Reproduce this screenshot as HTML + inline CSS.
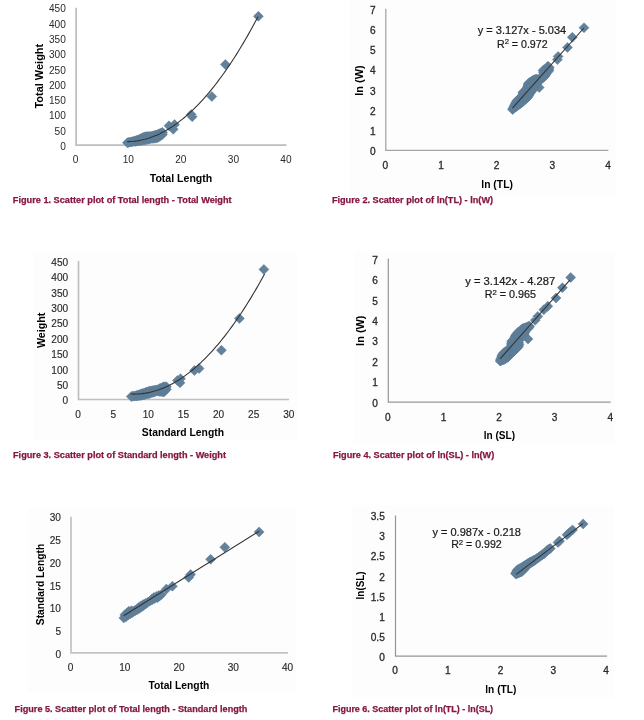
<!DOCTYPE html>
<html><head><meta charset="utf-8"><title>Scatter plots</title>
<style>html,body{margin:0;padding:0;background:#fff;}svg{display:block;filter:blur(0.4px);}text{font-family:"Liberation Sans", Arial, sans-serif;}</style>
</head><body>
<svg width="644" height="720" viewBox="0 0 644 720">
<rect width="644" height="720" fill="#fff"/>
<path d="M76.10 7.70V145.20H286.40" fill="none" stroke="#BDBDBD" stroke-width="1.7"/>
<text x="65.80" y="150.07" font-size="10.0" fill="#2a2a2a" text-anchor="end" textLength="5.62" lengthAdjust="spacingAndGlyphs">0</text>
<text x="65.80" y="134.76" font-size="10.0" fill="#2a2a2a" text-anchor="end" textLength="11.24" lengthAdjust="spacingAndGlyphs">50</text>
<text x="65.80" y="119.46" font-size="10.0" fill="#2a2a2a" text-anchor="end" textLength="16.86" lengthAdjust="spacingAndGlyphs">100</text>
<text x="65.80" y="104.16" font-size="10.0" fill="#2a2a2a" text-anchor="end" textLength="16.86" lengthAdjust="spacingAndGlyphs">150</text>
<text x="65.80" y="88.85" font-size="10.0" fill="#2a2a2a" text-anchor="end" textLength="16.86" lengthAdjust="spacingAndGlyphs">200</text>
<text x="65.80" y="73.55" font-size="10.0" fill="#2a2a2a" text-anchor="end" textLength="16.86" lengthAdjust="spacingAndGlyphs">250</text>
<text x="65.80" y="58.24" font-size="10.0" fill="#2a2a2a" text-anchor="end" textLength="16.86" lengthAdjust="spacingAndGlyphs">300</text>
<text x="65.80" y="42.94" font-size="10.0" fill="#2a2a2a" text-anchor="end" textLength="16.86" lengthAdjust="spacingAndGlyphs">350</text>
<text x="65.80" y="27.63" font-size="10.0" fill="#2a2a2a" text-anchor="end" textLength="16.86" lengthAdjust="spacingAndGlyphs">400</text>
<text x="65.80" y="12.32" font-size="10.0" fill="#2a2a2a" text-anchor="end" textLength="16.86" lengthAdjust="spacingAndGlyphs">450</text>
<text x="75.70" y="163.00" font-size="10.0" fill="#2a2a2a" text-anchor="middle" textLength="5.62" lengthAdjust="spacingAndGlyphs">0</text>
<text x="128.28" y="163.00" font-size="10.0" fill="#2a2a2a" text-anchor="middle" textLength="11.24" lengthAdjust="spacingAndGlyphs">10</text>
<text x="180.85" y="163.00" font-size="10.0" fill="#2a2a2a" text-anchor="middle" textLength="11.24" lengthAdjust="spacingAndGlyphs">20</text>
<text x="233.43" y="163.00" font-size="10.0" fill="#2a2a2a" text-anchor="middle" textLength="11.24" lengthAdjust="spacingAndGlyphs">30</text>
<text x="286.00" y="163.00" font-size="10.0" fill="#2a2a2a" text-anchor="middle" textLength="11.24" lengthAdjust="spacingAndGlyphs">40</text>
<text x="181.00" y="182.30" font-size="10.8" fill="#000000" font-weight="bold" text-anchor="middle" textLength="62.50" lengthAdjust="spacingAndGlyphs">Total Length</text>
<text transform="translate(42.60,76.20) rotate(-90)" x="0" y="0" font-size="10.8" font-weight="bold" fill="#000000" text-anchor="middle" textLength="64.80" lengthAdjust="spacingAndGlyphs">Total Weight</text>
<path d="M127.4 137.7L132.4 142.7L127.4 147.7L122.4 142.7ZM128.7 137.4L133.7 142.4L128.7 147.4L123.7 142.4ZM130.0 137.1L135.0 142.1L130.0 147.1L125.0 142.1ZM131.3 136.9L136.3 141.9L131.3 146.9L126.3 141.9ZM132.6 136.6L137.6 141.6L132.6 146.6L127.6 141.6ZM133.9 136.3L138.9 141.3L133.9 146.3L128.9 141.3ZM135.2 135.8L140.2 140.8L135.2 145.8L130.2 140.8ZM135.2 136.4L140.2 141.4L135.2 146.4L130.2 141.4ZM136.5 135.4L141.5 140.4L136.5 145.4L131.5 140.4ZM136.5 136.2L141.5 141.2L136.5 146.2L131.5 141.2ZM137.8 134.9L142.8 139.9L137.8 144.9L132.8 139.9ZM137.8 136.0L142.8 141.0L137.8 146.0L132.8 141.0ZM139.1 134.5L144.1 139.5L139.1 144.5L134.1 139.5ZM139.1 135.8L144.1 140.8L139.1 145.8L134.1 140.8ZM140.4 133.8L145.4 138.8L140.4 143.8L135.4 138.8ZM140.4 135.6L145.4 140.6L140.4 145.6L135.4 140.6ZM141.7 133.2L146.7 138.2L141.7 143.2L136.7 138.2ZM141.7 135.4L146.7 140.4L141.7 145.4L136.7 140.4ZM143.0 132.6L148.0 137.6L143.0 142.6L138.0 137.6ZM143.0 133.9L148.0 138.9L143.0 143.9L138.0 138.9ZM143.0 135.3L148.0 140.3L143.0 145.3L138.0 140.3ZM144.3 132.0L149.3 137.0L144.3 142.0L139.3 137.0ZM144.3 133.6L149.3 138.6L144.3 143.6L139.3 138.6ZM144.3 135.1L149.3 140.1L144.3 145.1L139.3 140.1ZM145.6 131.7L150.6 136.7L145.6 141.7L140.6 136.7ZM145.6 133.3L150.6 138.3L145.6 143.3L140.6 138.3ZM145.6 134.8L150.6 139.8L145.6 144.8L140.6 139.8ZM146.9 131.6L151.9 136.6L146.9 141.6L141.9 136.6ZM146.9 133.1L151.9 138.1L146.9 143.1L141.9 138.1ZM146.9 134.5L151.9 139.5L146.9 144.5L141.9 139.5ZM148.2 131.5L153.2 136.5L148.2 141.5L143.2 136.5ZM148.2 132.9L153.2 137.9L148.2 142.9L143.2 137.9ZM148.2 134.2L153.2 139.2L148.2 144.2L143.2 139.2ZM149.5 131.5L154.5 136.5L149.5 141.5L144.5 136.5ZM149.5 133.9L154.5 138.9L149.5 143.9L144.5 138.9ZM150.8 131.4L155.8 136.4L150.8 141.4L145.8 136.4ZM150.8 133.5L155.8 138.5L150.8 143.5L145.8 138.5ZM152.1 131.1L157.1 136.1L152.1 141.1L147.1 136.1ZM152.1 133.4L157.1 138.4L152.1 143.4L147.1 138.4ZM153.4 130.8L158.4 135.8L153.4 140.8L148.4 135.8ZM153.4 132.0L158.4 137.0L153.4 142.0L148.4 137.0ZM153.4 133.3L158.4 138.3L153.4 143.3L148.4 138.3ZM154.7 130.4L159.7 135.4L154.7 140.4L149.7 135.4ZM154.7 131.8L159.7 136.8L154.7 141.8L149.7 136.8ZM154.7 133.2L159.7 138.2L154.7 143.2L149.7 138.2ZM156.0 130.1L161.0 135.1L156.0 140.1L151.0 135.1ZM156.0 131.6L161.0 136.6L156.0 141.6L151.0 136.6ZM156.0 133.1L161.0 138.1L156.0 143.1L151.0 138.1ZM157.3 129.7L162.3 134.7L157.3 139.7L152.3 134.7ZM157.3 131.2L162.3 136.2L157.3 141.2L152.3 136.2ZM157.3 132.8L162.3 137.8L157.3 142.8L152.3 137.8ZM158.6 129.1L163.6 134.1L158.6 139.1L153.6 134.1ZM158.6 130.5L163.6 135.5L158.6 140.5L153.6 135.5ZM158.6 132.0L163.6 137.0L158.6 142.0L153.6 137.0ZM159.9 128.5L164.9 133.5L159.9 138.5L154.9 133.5ZM159.9 129.8L164.9 134.8L159.9 139.8L154.9 134.8ZM159.9 131.2L164.9 136.2L159.9 141.2L154.9 136.2ZM161.2 127.9L166.2 132.9L161.2 137.9L156.2 132.9ZM161.2 129.1L166.2 134.1L161.2 139.1L156.2 134.1ZM161.2 130.3L166.2 135.3L161.2 140.3L156.2 135.3ZM162.5 127.3L167.5 132.3L162.5 137.3L157.5 132.3ZM162.5 129.3L167.5 134.3L162.5 139.3L157.5 134.3ZM169.0 120.8L174.0 125.8L169.0 130.8L164.0 125.8ZM174.6 119.6L179.6 124.6L174.6 129.6L169.6 124.6ZM173.2 124.3L178.2 129.3L173.2 134.3L168.2 129.3ZM191.2 109.6L196.2 114.6L191.2 119.6L186.2 114.6ZM192.2 111.7L197.2 116.7L192.2 121.7L187.2 116.7ZM211.8 91.5L216.8 96.5L211.8 101.5L206.8 96.5ZM225.4 59.5L230.4 64.5L225.4 69.5L220.4 64.5ZM258.4 11.3L263.4 16.3L258.4 21.3L253.4 16.3Z" fill="#62819C" stroke="#5D7C97" stroke-width="0.5"/>
<polyline points="127.20,141.64 128.84,141.61 130.47,141.54 132.11,141.43 133.74,141.28 135.38,141.09 137.01,140.87 138.65,140.61 140.28,140.30 141.92,139.96 143.55,139.58 145.19,139.16 146.82,138.70 148.46,138.21 150.09,137.67 151.73,137.10 153.36,136.49 155.00,135.83 156.63,135.14 158.27,134.41 159.90,133.65 161.54,132.84 163.17,131.99 164.81,131.11 166.44,130.19 168.08,129.23 169.72,128.23 171.35,127.19 172.99,126.11 174.62,124.99 176.26,123.84 177.89,122.64 179.53,121.41 181.16,120.14 182.80,118.83 184.43,117.48 186.07,116.09 187.70,114.66 189.34,113.20 190.97,111.69 192.61,110.15 194.24,108.57 195.88,106.95 197.51,105.29 199.15,103.59 200.78,101.85 202.42,100.08 204.05,98.27 205.69,96.41 207.32,94.52 208.96,92.59 210.59,90.62 212.23,88.61 213.86,86.57 215.50,84.48 217.13,82.36 218.77,80.19 220.40,77.99 222.04,75.75 223.67,73.47 225.31,71.15 226.94,68.80 228.58,66.40 230.21,63.97 231.85,61.49 233.48,58.98 235.12,56.43 236.75,53.84 238.39,51.21 240.02,48.55 241.66,45.84 243.29,43.10 244.93,40.31 246.56,37.49 248.20,34.63 249.83,31.73 251.47,28.79 253.10,25.81 254.74,22.80 256.37,19.74 258.01,16.65" fill="none" stroke="#333333" stroke-width="1.1"/>
<text x="12.80" y="203.10" font-size="9.4" fill="#861642" font-weight="bold" textLength="218.80" lengthAdjust="spacingAndGlyphs" stroke="#861642" stroke-width="0.25">Figure 1. Scatter plot of Total length - Total Weight</text>
<rect x="349.5" y="0" width="266.4" height="195" fill="#FDFDFD"/>
<path d="M385.80 8.70V150.30H608.40" fill="none" stroke="#A6A6A6" stroke-width="1.3"/>
<text x="375.60" y="155.22" font-size="10.0" fill="#2a2a2a" text-anchor="end" textLength="5.62" lengthAdjust="spacingAndGlyphs" stroke="#2a2a2a" stroke-width="0.3">0</text>
<text x="375.60" y="135.00" font-size="10.0" fill="#2a2a2a" text-anchor="end" textLength="5.62" lengthAdjust="spacingAndGlyphs" stroke="#2a2a2a" stroke-width="0.3">1</text>
<text x="375.60" y="114.78" font-size="10.0" fill="#2a2a2a" text-anchor="end" textLength="5.62" lengthAdjust="spacingAndGlyphs" stroke="#2a2a2a" stroke-width="0.3">2</text>
<text x="375.60" y="94.56" font-size="10.0" fill="#2a2a2a" text-anchor="end" textLength="5.62" lengthAdjust="spacingAndGlyphs" stroke="#2a2a2a" stroke-width="0.3">3</text>
<text x="375.60" y="74.34" font-size="10.0" fill="#2a2a2a" text-anchor="end" textLength="5.62" lengthAdjust="spacingAndGlyphs" stroke="#2a2a2a" stroke-width="0.3">4</text>
<text x="375.60" y="54.12" font-size="10.0" fill="#2a2a2a" text-anchor="end" textLength="5.62" lengthAdjust="spacingAndGlyphs" stroke="#2a2a2a" stroke-width="0.3">5</text>
<text x="375.60" y="33.90" font-size="10.0" fill="#2a2a2a" text-anchor="end" textLength="5.62" lengthAdjust="spacingAndGlyphs" stroke="#2a2a2a" stroke-width="0.3">6</text>
<text x="375.60" y="13.68" font-size="10.0" fill="#2a2a2a" text-anchor="end" textLength="5.62" lengthAdjust="spacingAndGlyphs" stroke="#2a2a2a" stroke-width="0.3">7</text>
<text x="385.40" y="168.80" font-size="10.0" fill="#2a2a2a" text-anchor="middle" textLength="5.62" lengthAdjust="spacingAndGlyphs" stroke="#2a2a2a" stroke-width="0.3">0</text>
<text x="441.05" y="168.80" font-size="10.0" fill="#2a2a2a" text-anchor="middle" textLength="5.62" lengthAdjust="spacingAndGlyphs" stroke="#2a2a2a" stroke-width="0.3">1</text>
<text x="496.70" y="168.80" font-size="10.0" fill="#2a2a2a" text-anchor="middle" textLength="5.62" lengthAdjust="spacingAndGlyphs" stroke="#2a2a2a" stroke-width="0.3">2</text>
<text x="552.35" y="168.80" font-size="10.0" fill="#2a2a2a" text-anchor="middle" textLength="5.62" lengthAdjust="spacingAndGlyphs" stroke="#2a2a2a" stroke-width="0.3">3</text>
<text x="608.00" y="168.80" font-size="10.0" fill="#2a2a2a" text-anchor="middle" textLength="5.62" lengthAdjust="spacingAndGlyphs" stroke="#2a2a2a" stroke-width="0.3">4</text>
<text x="497.10" y="188.20" font-size="10.8" fill="#000000" font-weight="bold" text-anchor="middle" textLength="31.60" lengthAdjust="spacingAndGlyphs">ln (TL)</text>
<text transform="translate(362.90,80.50) rotate(-90)" x="0" y="0" font-size="11.5" font-weight="bold" fill="#000000" text-anchor="middle" textLength="30.40" lengthAdjust="spacingAndGlyphs">ln (W)</text>
<text x="522.00" y="34.20" font-size="10" fill="#1a1a1a" text-anchor="middle" textLength="88.40" lengthAdjust="spacingAndGlyphs" stroke="#1a1a1a" stroke-width="0.2">y = 3.127x - 5.034</text>
<text x="522.30" y="47.90" font-size="10" fill="#1a1a1a" text-anchor="middle" textLength="50.60" lengthAdjust="spacingAndGlyphs" stroke="#1a1a1a" stroke-width="0.2">R<tspan font-size="7.2" dy="-3.6">2</tspan><tspan dy="3.6"> </tspan>= 0.972</text>
<path d="M512.5 104.5L517.5 109.5L512.5 114.5L507.5 109.5ZM513.5 103.7L518.5 108.7L513.5 113.7L508.5 108.7ZM513.1 103.3L518.1 108.3L513.1 113.3L508.1 108.3ZM514.5 102.8L519.5 107.8L514.5 112.8L509.5 107.8ZM513.7 102.1L518.7 107.1L513.7 112.1L508.7 107.1ZM515.5 102.0L520.5 107.0L515.5 112.0L510.5 107.0ZM514.3 100.9L519.3 105.9L514.3 110.9L509.3 105.9ZM516.6 101.2L521.6 106.2L516.6 111.2L511.6 106.2ZM514.9 99.7L519.9 104.7L514.9 109.7L509.9 104.7ZM517.7 100.5L522.7 105.5L517.7 110.5L512.7 105.5ZM516.6 99.5L521.6 104.5L516.6 109.5L511.6 104.5ZM515.5 98.5L520.5 103.5L515.5 108.5L510.5 103.5ZM518.8 99.7L523.8 104.7L518.8 109.7L513.8 104.7ZM517.5 98.5L522.5 103.5L517.5 108.5L512.5 103.5ZM516.1 97.3L521.1 102.3L516.1 107.3L511.1 102.3ZM519.9 98.9L524.9 103.9L519.9 108.9L514.9 103.9ZM518.3 97.5L523.3 102.5L518.3 107.5L513.3 102.5ZM516.7 96.1L521.7 101.1L516.7 106.1L511.7 101.1ZM521.0 98.1L526.0 103.1L521.0 108.1L516.0 103.1ZM519.3 96.6L524.3 101.6L519.3 106.6L514.3 101.6ZM517.6 95.1L522.6 100.1L517.6 105.1L512.6 100.1ZM521.9 97.3L526.9 102.3L521.9 107.3L516.9 102.3ZM520.3 95.8L525.3 100.8L520.3 105.8L515.3 100.8ZM518.7 94.4L523.7 99.4L518.7 104.4L513.7 99.4ZM522.9 96.4L527.9 101.4L522.9 106.4L517.9 101.4ZM521.4 95.0L526.4 100.0L521.4 105.0L516.4 100.0ZM519.8 93.6L524.8 98.6L519.8 103.6L514.8 98.6ZM523.9 95.5L528.9 100.5L523.9 105.5L518.9 100.5ZM522.4 94.2L527.4 99.2L522.4 104.2L517.4 99.2ZM521.0 92.9L526.0 97.9L521.0 102.9L516.0 97.9ZM524.9 94.7L529.9 99.7L524.9 104.7L519.9 99.7ZM523.5 93.4L528.5 98.4L523.5 103.4L518.5 98.4ZM522.1 92.2L527.1 97.2L522.1 102.2L517.1 97.2ZM525.9 93.8L530.9 98.8L525.9 103.8L520.9 98.8ZM524.3 92.4L529.3 97.4L524.3 102.4L519.3 97.4ZM522.8 91.1L527.8 96.1L522.8 101.1L517.8 96.1ZM526.9 93.0L531.9 98.0L526.9 103.0L521.9 98.0ZM525.5 91.7L530.5 96.7L525.5 101.7L520.5 96.7ZM524.1 90.5L529.1 95.5L524.1 100.5L519.1 95.5ZM522.7 89.3L527.7 94.3L522.7 99.3L517.7 94.3ZM527.8 92.1L532.8 97.1L527.8 102.1L522.8 97.1ZM526.1 90.6L531.1 95.6L526.1 100.6L521.1 95.6ZM524.5 89.1L529.5 94.1L524.5 99.1L519.5 94.1ZM522.8 87.6L527.8 92.6L522.8 97.6L517.8 92.6ZM528.5 90.9L533.5 95.9L528.5 100.9L523.5 95.9ZM526.9 89.5L531.9 94.5L526.9 99.5L521.9 94.5ZM525.4 88.1L530.4 93.1L525.4 98.1L520.4 93.1ZM523.8 86.7L528.8 91.7L523.8 96.7L518.8 91.7ZM529.1 89.8L534.1 94.8L529.1 99.8L524.1 94.8ZM527.7 88.5L532.7 93.5L527.7 98.5L522.7 93.5ZM526.2 87.2L531.2 92.2L526.2 97.2L521.2 92.2ZM524.8 85.9L529.8 90.9L524.8 95.9L519.8 90.9ZM529.8 88.6L534.8 93.6L529.8 98.6L524.8 93.6ZM528.5 87.4L533.5 92.4L528.5 97.4L523.5 92.4ZM527.1 86.2L532.1 91.2L527.1 96.2L522.1 91.2ZM525.8 85.0L530.8 90.0L525.8 95.0L520.8 90.0ZM530.5 87.4L535.5 92.4L530.5 97.4L525.5 92.4ZM529.2 86.4L534.2 91.4L529.2 96.4L524.2 91.4ZM528.0 85.3L533.0 90.3L528.0 95.3L523.0 90.3ZM526.8 84.2L531.8 89.2L526.8 94.2L521.8 89.2ZM531.2 86.4L536.2 91.4L531.2 96.4L526.2 91.4ZM529.9 85.2L534.9 90.2L529.9 95.2L524.9 90.2ZM528.6 84.0L533.6 89.0L528.6 94.0L523.6 89.0ZM527.3 82.9L532.3 87.9L527.3 92.9L522.3 87.9ZM532.1 85.4L537.1 90.4L532.1 95.4L527.1 90.4ZM530.6 84.1L535.6 89.1L530.6 94.1L525.6 89.1ZM529.1 82.8L534.1 87.8L529.1 92.8L524.1 87.8ZM527.6 81.4L532.6 86.4L527.6 91.4L522.6 86.4ZM532.9 84.4L537.9 89.4L532.9 94.4L527.9 89.4ZM531.3 82.9L536.3 87.9L531.3 92.9L526.3 87.9ZM529.6 81.5L534.6 86.5L529.6 91.5L524.6 86.5ZM528.0 80.0L533.0 85.0L528.0 90.0L523.0 85.0ZM533.7 83.4L538.7 88.4L533.7 93.4L528.7 88.4ZM532.4 82.2L537.4 87.2L532.4 92.2L527.4 87.2ZM531.0 81.0L536.0 86.0L531.0 91.0L526.0 86.0ZM529.7 79.8L534.7 84.8L529.7 89.8L524.7 84.8ZM528.3 78.6L533.3 83.6L528.3 88.6L523.3 83.6ZM534.5 82.3L539.5 87.3L534.5 92.3L529.5 87.3ZM532.8 80.8L537.8 85.8L532.8 90.8L527.8 85.8ZM531.1 79.3L536.1 84.3L531.1 89.3L526.1 84.3ZM529.4 77.8L534.4 82.8L529.4 87.8L524.4 82.8ZM535.3 81.3L540.3 86.3L535.3 91.3L530.3 86.3ZM533.7 79.9L538.7 84.9L533.7 89.9L528.7 84.9ZM532.1 78.4L537.1 83.4L532.1 88.4L527.1 83.4ZM530.5 77.0L535.5 82.0L530.5 87.0L525.5 82.0ZM536.0 80.2L541.0 85.2L536.0 90.2L531.0 85.2ZM534.6 78.9L539.6 83.9L534.6 88.9L529.6 83.9ZM533.1 77.6L538.1 82.6L533.1 87.6L528.1 82.6ZM531.6 76.3L536.6 81.3L531.6 86.3L526.6 81.3ZM536.8 79.1L541.8 84.1L536.8 89.1L531.8 84.1ZM535.4 77.9L540.4 82.9L535.4 87.9L530.4 82.9ZM534.1 76.7L539.1 81.7L534.1 86.7L529.1 81.7ZM532.7 75.6L537.7 80.6L532.7 85.6L527.7 80.6ZM537.0 77.6L542.0 82.6L537.0 87.6L532.0 82.6ZM535.5 76.2L540.5 81.2L535.5 86.2L530.5 81.2ZM533.9 74.9L538.9 79.9L533.9 84.9L528.9 79.9ZM537.0 75.9L542.0 80.9L537.0 85.9L532.0 80.9ZM536.1 75.1L541.1 80.1L536.1 85.1L531.1 80.1ZM535.2 74.2L540.2 79.2L535.2 84.2L530.2 79.2ZM537.9 74.9L542.9 79.9L537.9 84.9L532.9 79.9ZM536.9 74.0L541.9 79.0L536.9 84.0L531.9 79.0ZM539.5 74.6L544.5 79.6L539.5 84.6L534.5 79.6ZM539.0 74.2L544.0 79.2L539.0 84.2L534.0 79.2ZM541.0 74.2L546.0 79.2L541.0 84.2L536.0 79.2ZM542.1 73.4L547.1 78.4L542.1 83.4L537.1 78.4ZM543.1 72.6L548.1 77.6L543.1 82.6L538.1 77.6ZM542.7 72.2L547.7 77.2L542.7 82.2L537.7 77.2ZM544.1 71.8L549.1 76.8L544.1 81.8L539.1 76.8ZM543.5 71.2L548.5 76.2L543.5 81.2L538.5 76.2ZM545.0 70.8L550.0 75.8L545.0 80.8L540.0 75.8ZM544.0 69.9L549.0 74.9L544.0 79.9L539.0 74.9ZM545.6 69.6L550.6 74.6L545.6 79.6L540.6 74.6ZM544.5 68.7L549.5 73.7L544.5 78.7L539.5 73.7ZM543.5 67.7L548.5 72.7L543.5 77.7L538.5 72.7ZM546.1 68.3L551.1 73.3L546.1 78.3L541.1 73.3ZM544.5 66.9L549.5 71.9L544.5 76.9L539.5 71.9ZM543.0 65.6L548.0 70.6L543.0 75.6L538.0 70.6ZM547.0 67.3L552.0 72.3L547.0 77.3L542.0 72.3ZM545.5 66.0L550.5 71.0L545.5 76.0L540.5 71.0ZM544.1 64.7L549.1 69.7L544.1 74.7L539.1 69.7ZM548.0 66.5L553.0 71.5L548.0 76.5L543.0 71.5ZM546.8 65.4L551.8 70.4L546.8 75.4L541.8 70.4ZM545.5 64.3L550.5 69.3L545.5 74.3L540.5 69.3ZM548.8 65.5L553.8 70.5L548.8 75.5L543.8 70.5ZM547.8 64.6L552.8 69.6L547.8 74.6L542.8 69.6ZM546.8 63.7L551.8 68.7L546.8 73.7L541.8 68.7ZM549.0 64.0L554.0 69.0L549.0 74.0L544.0 69.0ZM547.4 62.5L552.4 67.5L547.4 72.5L542.4 67.5ZM549.2 62.4L554.2 67.4L549.2 72.4L544.2 67.4ZM547.9 61.2L552.9 66.2L547.9 71.2L542.9 66.2ZM539.2 82.6L544.2 87.6L539.2 92.6L534.2 87.6ZM558.1 51.4L563.1 56.4L558.1 61.4L553.1 56.4ZM557.4 54.6L562.4 59.6L557.4 64.6L552.4 59.6ZM567.5 42.4L572.5 47.4L567.5 52.4L562.5 47.4ZM572.3 32.3L577.3 37.3L572.3 42.3L567.3 37.3ZM584.0 22.7L589.0 27.7L584.0 32.7L579.0 27.7Z" fill="#62819C" stroke="#5D7C97" stroke-width="0.5"/>
<polyline points="512.40,108.10 583.90,28.00" fill="none" stroke="#333333" stroke-width="1.1"/>
<text x="331.90" y="202.80" font-size="9.4" fill="#861642" font-weight="bold" textLength="161.20" lengthAdjust="spacingAndGlyphs" stroke="#861642" stroke-width="0.25">Figure 2. Scatter plot of ln(TL) - ln(W)</text>
<rect x="33" y="252.1" width="263.8" height="188.50000000000003" fill="#FDFDFD"/>
<path d="M78.50 260.90V399.50H289.00" fill="none" stroke="#BFBFBF" stroke-width="1.7"/>
<text x="68.20" y="404.45" font-size="10.5" fill="#2a2a2a" text-anchor="end" textLength="5.62" lengthAdjust="spacingAndGlyphs" stroke="#2a2a2a" stroke-width="0.15">0</text>
<text x="68.20" y="389.05" font-size="10.5" fill="#2a2a2a" text-anchor="end" textLength="11.24" lengthAdjust="spacingAndGlyphs" stroke="#2a2a2a" stroke-width="0.15">50</text>
<text x="68.20" y="373.64" font-size="10.5" fill="#2a2a2a" text-anchor="end" textLength="16.86" lengthAdjust="spacingAndGlyphs" stroke="#2a2a2a" stroke-width="0.15">100</text>
<text x="68.20" y="358.24" font-size="10.5" fill="#2a2a2a" text-anchor="end" textLength="16.86" lengthAdjust="spacingAndGlyphs" stroke="#2a2a2a" stroke-width="0.15">150</text>
<text x="68.20" y="342.83" font-size="10.5" fill="#2a2a2a" text-anchor="end" textLength="16.86" lengthAdjust="spacingAndGlyphs" stroke="#2a2a2a" stroke-width="0.15">200</text>
<text x="68.20" y="327.43" font-size="10.5" fill="#2a2a2a" text-anchor="end" textLength="16.86" lengthAdjust="spacingAndGlyphs" stroke="#2a2a2a" stroke-width="0.15">250</text>
<text x="68.20" y="312.02" font-size="10.5" fill="#2a2a2a" text-anchor="end" textLength="16.86" lengthAdjust="spacingAndGlyphs" stroke="#2a2a2a" stroke-width="0.15">300</text>
<text x="68.20" y="296.62" font-size="10.5" fill="#2a2a2a" text-anchor="end" textLength="16.86" lengthAdjust="spacingAndGlyphs" stroke="#2a2a2a" stroke-width="0.15">350</text>
<text x="68.20" y="281.21" font-size="10.5" fill="#2a2a2a" text-anchor="end" textLength="16.86" lengthAdjust="spacingAndGlyphs" stroke="#2a2a2a" stroke-width="0.15">400</text>
<text x="68.20" y="265.81" font-size="10.5" fill="#2a2a2a" text-anchor="end" textLength="16.86" lengthAdjust="spacingAndGlyphs" stroke="#2a2a2a" stroke-width="0.15">450</text>
<text x="78.10" y="418.00" font-size="10.5" fill="#2a2a2a" text-anchor="middle" textLength="5.62" lengthAdjust="spacingAndGlyphs" stroke="#2a2a2a" stroke-width="0.15">0</text>
<text x="113.21" y="418.00" font-size="10.5" fill="#2a2a2a" text-anchor="middle" textLength="5.62" lengthAdjust="spacingAndGlyphs" stroke="#2a2a2a" stroke-width="0.15">5</text>
<text x="148.32" y="418.00" font-size="10.5" fill="#2a2a2a" text-anchor="middle" textLength="11.24" lengthAdjust="spacingAndGlyphs" stroke="#2a2a2a" stroke-width="0.15">10</text>
<text x="183.43" y="418.00" font-size="10.5" fill="#2a2a2a" text-anchor="middle" textLength="11.24" lengthAdjust="spacingAndGlyphs" stroke="#2a2a2a" stroke-width="0.15">15</text>
<text x="218.54" y="418.00" font-size="10.5" fill="#2a2a2a" text-anchor="middle" textLength="11.24" lengthAdjust="spacingAndGlyphs" stroke="#2a2a2a" stroke-width="0.15">20</text>
<text x="253.65" y="418.00" font-size="10.5" fill="#2a2a2a" text-anchor="middle" textLength="11.24" lengthAdjust="spacingAndGlyphs" stroke="#2a2a2a" stroke-width="0.15">25</text>
<text x="288.76" y="418.00" font-size="10.5" fill="#2a2a2a" text-anchor="middle" textLength="11.24" lengthAdjust="spacingAndGlyphs" stroke="#2a2a2a" stroke-width="0.15">30</text>
<text x="182.90" y="435.50" font-size="10.8" fill="#000000" font-weight="bold" text-anchor="middle" textLength="82.20" lengthAdjust="spacingAndGlyphs">Standard Length</text>
<text transform="translate(45.40,330.30) rotate(-90)" x="0" y="0" font-size="10.8" font-weight="bold" fill="#000000" text-anchor="middle" textLength="35.50" lengthAdjust="spacingAndGlyphs">Weight</text>
<path d="M131.3 391.5L136.3 396.5L131.3 401.5L126.3 396.5ZM132.6 391.3L137.6 396.3L132.6 401.3L127.6 396.3ZM133.9 391.1L138.9 396.1L133.9 401.1L128.9 396.1ZM135.2 390.9L140.2 395.9L135.2 400.9L130.2 395.9ZM136.5 390.6L141.5 395.6L136.5 400.6L131.5 395.6ZM136.5 390.9L141.5 395.9L136.5 400.9L131.5 395.9ZM137.8 390.2L142.8 395.2L137.8 400.2L132.8 395.2ZM137.8 390.8L142.8 395.8L137.8 400.8L132.8 395.8ZM139.1 389.7L144.1 394.7L139.1 399.7L134.1 394.7ZM139.1 390.6L144.1 395.6L139.1 400.6L134.1 395.6ZM140.4 389.3L145.4 394.3L140.4 399.3L135.4 394.3ZM140.4 390.4L145.4 395.4L140.4 400.4L135.4 395.4ZM141.7 388.8L146.7 393.8L141.7 398.8L136.7 393.8ZM141.7 390.2L146.7 395.2L141.7 400.2L136.7 395.2ZM143.0 388.4L148.0 393.4L143.0 398.4L138.0 393.4ZM143.0 390.0L148.0 395.0L143.0 400.0L138.0 395.0ZM144.3 387.9L149.3 392.9L144.3 397.9L139.3 392.9ZM144.3 389.7L149.3 394.7L144.3 399.7L139.3 394.7ZM145.6 387.5L150.6 392.5L145.6 397.5L140.6 392.5ZM145.6 389.3L150.6 394.3L145.6 399.3L140.6 394.3ZM146.9 387.0L151.9 392.0L146.9 397.0L141.9 392.0ZM146.9 389.0L151.9 394.0L146.9 399.0L141.9 394.0ZM148.2 386.6L153.2 391.6L148.2 396.6L143.2 391.6ZM148.2 388.7L153.2 393.7L148.2 398.7L143.2 393.7ZM149.5 386.2L154.5 391.2L149.5 396.2L144.5 391.2ZM149.5 388.4L154.5 393.4L149.5 398.4L144.5 393.4ZM150.8 385.9L155.8 390.9L150.8 395.9L145.8 390.9ZM150.8 388.0L155.8 393.0L150.8 398.0L145.8 393.0ZM152.1 385.7L157.1 390.7L152.1 395.7L147.1 390.7ZM152.1 387.6L157.1 392.6L152.1 397.6L147.1 392.6ZM153.4 385.5L158.4 390.5L153.4 395.5L148.4 390.5ZM153.4 387.2L158.4 392.2L153.4 397.2L148.4 392.2ZM154.7 385.3L159.7 390.3L154.7 395.3L149.7 390.3ZM154.7 386.8L159.7 391.8L154.7 396.8L149.7 391.8ZM156.0 385.1L161.0 390.1L156.0 395.1L151.0 390.1ZM156.0 386.3L161.0 391.3L156.0 396.3L151.0 391.3ZM157.3 384.9L162.3 389.9L157.3 394.9L152.3 389.9ZM157.3 386.0L162.3 391.0L157.3 396.0L152.3 391.0ZM158.6 384.2L163.6 389.2L158.6 394.2L153.6 389.2ZM158.6 386.2L163.6 391.2L158.6 396.2L153.6 391.2ZM159.9 383.6L164.9 388.6L159.9 393.6L154.9 388.6ZM159.9 385.0L164.9 390.0L159.9 395.0L154.9 390.0ZM159.9 386.4L164.9 391.4L159.9 396.4L154.9 391.4ZM161.2 383.0L166.2 388.0L161.2 393.0L156.2 388.0ZM161.2 384.8L166.2 389.8L161.2 394.8L156.2 389.8ZM161.2 386.5L166.2 391.5L161.2 396.5L156.2 391.5ZM162.5 382.4L167.5 387.4L162.5 392.4L157.5 387.4ZM162.5 384.6L167.5 389.6L162.5 394.6L157.5 389.6ZM162.5 386.7L167.5 391.7L162.5 396.7L157.5 391.7ZM163.8 381.8L168.8 386.8L163.8 391.8L158.8 386.8ZM163.8 383.5L168.8 388.5L163.8 393.5L158.8 388.5ZM163.8 385.2L168.8 390.2L163.8 395.2L158.8 390.2ZM163.8 386.9L168.8 391.9L163.8 396.9L158.8 391.9ZM165.1 381.8L170.1 386.8L165.1 391.8L160.1 386.8ZM165.1 383.7L170.1 388.7L165.1 393.7L160.1 388.7ZM165.1 385.7L170.1 390.7L165.1 395.7L160.1 390.7ZM166.4 381.8L171.4 386.8L166.4 391.8L161.4 386.8ZM166.4 384.2L171.4 389.2L166.4 394.2L161.4 389.2ZM177.4 375.5L182.4 380.5L177.4 385.5L172.4 380.5ZM180.5 373.7L185.5 378.7L180.5 383.7L175.5 378.7ZM180.0 377.8L185.0 382.8L180.0 387.8L175.0 382.8ZM194.4 365.6L199.4 370.6L194.4 375.6L189.4 370.6ZM199.1 363.5L204.1 368.5L199.1 373.5L194.1 368.5ZM221.4 345.2L226.4 350.2L221.4 355.2L216.4 350.2ZM239.4 313.4L244.4 318.4L239.4 323.4L234.4 318.4ZM263.9 264.4L268.9 269.4L263.9 274.4L258.9 269.4Z" fill="#62819C" stroke="#5D7C97" stroke-width="0.5"/>
<polyline points="130.53,394.00 132.21,394.06 133.88,394.09 135.56,394.07 137.24,394.01 138.91,393.92 140.59,393.78 142.26,393.61 143.94,393.39 145.61,393.14 147.29,392.84 148.96,392.51 150.64,392.14 152.32,391.72 153.99,391.27 155.67,390.78 157.34,390.25 159.02,389.68 160.69,389.07 162.37,388.42 164.05,387.73 165.72,387.00 167.40,386.23 169.07,385.42 170.75,384.57 172.42,383.69 174.10,382.76 175.77,381.79 177.45,380.79 179.13,379.74 180.80,378.66 182.48,377.53 184.15,376.37 185.83,375.16 187.50,373.92 189.18,372.64 190.86,371.31 192.53,369.95 194.21,368.55 195.88,367.11 197.56,365.63 199.23,364.11 200.91,362.55 202.58,360.95 204.26,359.31 205.94,357.63 207.61,355.91 209.29,354.15 210.96,352.36 212.64,350.52 214.31,348.64 215.99,346.73 217.67,344.77 219.34,342.78 221.02,340.74 222.69,338.67 224.37,336.55 226.04,334.40 227.72,332.21 229.39,329.97 231.07,327.70 232.75,325.39 234.42,323.04 236.10,320.65 237.77,318.22 239.45,315.75 241.12,313.24 242.80,310.69 244.48,308.10 246.15,305.47 247.83,302.81 249.50,300.10 251.18,297.35 252.85,294.56 254.53,291.74 256.20,288.87 257.88,285.97 259.56,283.02 261.23,280.04 262.91,277.02 264.58,273.95" fill="none" stroke="#333333" stroke-width="1.1"/>
<text x="13.00" y="457.70" font-size="9.4" fill="#861642" font-weight="bold" textLength="213.00" lengthAdjust="spacingAndGlyphs" stroke="#861642" stroke-width="0.25">Figure 3. Scatter plot of Standard length - Weight</text>
<rect x="354.0" y="252.0" width="260.9" height="190.89999999999998" fill="#FDFDFD"/>
<path d="M388.30 258.40V402.20H610.60" fill="none" stroke="#969696" stroke-width="1.2"/>
<text x="377.80" y="406.57" font-size="10.0" fill="#2a2a2a" text-anchor="end" textLength="5.62" lengthAdjust="spacingAndGlyphs" stroke="#2a2a2a" stroke-width="0.3">0</text>
<text x="377.80" y="386.16" font-size="10.0" fill="#2a2a2a" text-anchor="end" textLength="5.62" lengthAdjust="spacingAndGlyphs" stroke="#2a2a2a" stroke-width="0.3">1</text>
<text x="377.80" y="365.75" font-size="10.0" fill="#2a2a2a" text-anchor="end" textLength="5.62" lengthAdjust="spacingAndGlyphs" stroke="#2a2a2a" stroke-width="0.3">2</text>
<text x="377.80" y="345.34" font-size="10.0" fill="#2a2a2a" text-anchor="end" textLength="5.62" lengthAdjust="spacingAndGlyphs" stroke="#2a2a2a" stroke-width="0.3">3</text>
<text x="377.80" y="324.93" font-size="10.0" fill="#2a2a2a" text-anchor="end" textLength="5.62" lengthAdjust="spacingAndGlyphs" stroke="#2a2a2a" stroke-width="0.3">4</text>
<text x="377.80" y="304.52" font-size="10.0" fill="#2a2a2a" text-anchor="end" textLength="5.62" lengthAdjust="spacingAndGlyphs" stroke="#2a2a2a" stroke-width="0.3">5</text>
<text x="377.80" y="284.11" font-size="10.0" fill="#2a2a2a" text-anchor="end" textLength="5.62" lengthAdjust="spacingAndGlyphs" stroke="#2a2a2a" stroke-width="0.3">6</text>
<text x="377.80" y="263.70" font-size="10.0" fill="#2a2a2a" text-anchor="end" textLength="5.62" lengthAdjust="spacingAndGlyphs" stroke="#2a2a2a" stroke-width="0.3">7</text>
<text x="387.90" y="420.60" font-size="10.0" fill="#2a2a2a" text-anchor="middle" textLength="5.62" lengthAdjust="spacingAndGlyphs" stroke="#2a2a2a" stroke-width="0.3">0</text>
<text x="443.50" y="420.60" font-size="10.0" fill="#2a2a2a" text-anchor="middle" textLength="5.62" lengthAdjust="spacingAndGlyphs" stroke="#2a2a2a" stroke-width="0.3">1</text>
<text x="499.10" y="420.60" font-size="10.0" fill="#2a2a2a" text-anchor="middle" textLength="5.62" lengthAdjust="spacingAndGlyphs" stroke="#2a2a2a" stroke-width="0.3">2</text>
<text x="554.70" y="420.60" font-size="10.0" fill="#2a2a2a" text-anchor="middle" textLength="5.62" lengthAdjust="spacingAndGlyphs" stroke="#2a2a2a" stroke-width="0.3">3</text>
<text x="610.30" y="420.60" font-size="10.0" fill="#2a2a2a" text-anchor="middle" textLength="5.62" lengthAdjust="spacingAndGlyphs" stroke="#2a2a2a" stroke-width="0.3">4</text>
<text x="499.40" y="439.30" font-size="10.8" fill="#000000" font-weight="bold" text-anchor="middle" textLength="31.40" lengthAdjust="spacingAndGlyphs">ln (SL)</text>
<text transform="translate(364.10,330.70) rotate(-90)" x="0" y="0" font-size="11.5" font-weight="bold" fill="#000000" text-anchor="middle" textLength="30.40" lengthAdjust="spacingAndGlyphs">ln (W)</text>
<text x="510.20" y="285.00" font-size="10" fill="#1a1a1a" text-anchor="middle" textLength="90.00" lengthAdjust="spacingAndGlyphs" stroke="#1a1a1a" stroke-width="0.2">y = 3.142x - 4.287</text>
<text x="510.40" y="298.30" font-size="10" fill="#1a1a1a" text-anchor="middle" textLength="51.20" lengthAdjust="spacingAndGlyphs" stroke="#1a1a1a" stroke-width="0.2">R<tspan font-size="7.2" dy="-3.6">2</tspan><tspan dy="3.6"> </tspan>= 0.965</text>
<path d="M500.1 356.0L505.1 361.0L500.1 366.0L495.1 361.0ZM501.4 355.5L506.4 360.5L501.4 365.5L496.4 360.5ZM500.6 354.7L505.6 359.7L500.6 364.7L495.6 359.7ZM502.8 354.9L507.8 359.9L502.8 364.9L497.8 359.9ZM501.1 353.4L506.1 358.4L501.1 363.4L496.1 358.4ZM504.1 354.4L509.1 359.4L504.1 364.4L499.1 359.4ZM502.8 353.2L507.8 358.2L502.8 363.2L497.8 358.2ZM501.5 352.1L506.5 357.1L501.5 362.1L496.5 357.1ZM505.4 353.8L510.4 358.8L505.4 363.8L500.4 358.8ZM503.7 352.3L508.7 357.3L503.7 362.3L498.7 357.3ZM502.0 350.8L507.0 355.8L502.0 360.8L497.0 355.8ZM506.5 353.0L511.5 358.0L506.5 363.0L501.5 358.0ZM505.2 351.9L510.2 356.9L505.2 361.9L500.2 356.9ZM503.9 350.7L508.9 355.7L503.9 360.7L498.9 355.7ZM502.6 349.6L507.6 354.6L502.6 359.6L497.6 354.6ZM507.6 352.2L512.6 357.2L507.6 362.2L502.6 357.2ZM506.1 350.9L511.1 355.9L506.1 360.9L501.1 355.9ZM504.7 349.6L509.7 354.6L504.7 359.6L499.7 354.6ZM503.2 348.4L508.2 353.4L503.2 358.4L498.2 353.4ZM508.6 351.4L513.6 356.4L508.6 361.4L503.6 356.4ZM507.1 350.1L512.1 355.1L507.1 360.1L502.1 355.1ZM505.6 348.8L510.6 353.8L505.6 358.8L500.6 353.8ZM504.2 347.5L509.2 352.5L504.2 357.5L499.2 352.5ZM509.5 350.5L514.5 355.5L509.5 360.5L504.5 355.5ZM508.1 349.2L513.1 354.2L508.1 359.2L503.1 354.2ZM506.7 348.0L511.7 353.0L506.7 358.0L501.7 353.0ZM505.4 346.8L510.4 351.8L505.4 356.8L500.4 351.8ZM510.4 349.5L515.4 354.5L510.4 359.5L505.4 354.5ZM509.1 348.4L514.1 353.4L509.1 358.4L504.1 353.4ZM507.9 347.3L512.9 352.3L507.9 357.3L502.9 352.3ZM506.6 346.1L511.6 351.1L506.6 356.1L501.6 351.1ZM511.4 348.6L516.4 353.6L511.4 358.6L506.4 353.6ZM509.6 347.1L514.6 352.1L509.6 357.1L504.6 352.1ZM507.8 345.5L512.8 350.5L507.8 355.5L502.8 350.5ZM512.3 347.7L517.3 352.7L512.3 357.7L507.3 352.7ZM510.6 346.3L515.6 351.3L510.6 356.3L505.6 351.3ZM509.0 344.8L514.0 349.8L509.0 354.8L504.0 349.8ZM513.2 346.8L518.2 351.8L513.2 356.8L508.2 351.8ZM511.7 345.5L516.7 350.5L511.7 355.5L506.7 350.5ZM510.2 344.1L515.2 349.1L510.2 354.1L505.2 349.1ZM514.1 345.9L519.1 350.9L514.1 355.9L509.1 350.9ZM512.6 344.5L517.6 349.5L512.6 354.5L507.6 349.5ZM511.1 343.2L516.1 348.2L511.1 353.2L506.1 348.2ZM515.1 345.0L520.1 350.0L515.1 355.0L510.1 350.0ZM513.8 343.8L518.8 348.8L513.8 353.8L508.8 348.8ZM512.5 342.7L517.5 347.7L512.5 352.7L507.5 347.7ZM511.2 341.6L516.2 346.6L511.2 351.6L506.2 346.6ZM516.0 344.1L521.0 349.1L516.0 354.1L511.0 349.1ZM514.4 342.7L519.4 347.7L514.4 352.7L509.4 347.7ZM512.9 341.3L517.9 346.3L512.9 351.3L507.9 346.3ZM511.3 340.0L516.3 345.0L511.3 350.0L506.3 345.0ZM516.9 343.1L521.9 348.1L516.9 353.1L511.9 348.1ZM515.6 341.9L520.6 346.9L515.6 351.9L510.6 346.9ZM514.2 340.7L519.2 345.7L514.2 350.7L509.2 345.7ZM512.8 339.5L517.8 344.5L512.8 349.5L507.8 344.5ZM511.5 338.3L516.5 343.3L511.5 348.3L506.5 343.3ZM517.9 342.2L522.9 347.2L517.9 352.2L512.9 347.2ZM516.3 340.9L521.3 345.9L516.3 350.9L511.3 345.9ZM514.7 339.5L519.7 344.5L514.7 349.5L509.7 344.5ZM513.2 338.1L518.2 343.1L513.2 348.1L508.2 343.1ZM511.6 336.7L516.6 341.7L511.6 346.7L506.6 341.7ZM518.5 341.1L523.5 346.1L518.5 351.1L513.5 346.1ZM517.0 339.7L522.0 344.7L517.0 349.7L512.0 344.7ZM515.4 338.4L520.4 343.4L515.4 348.4L510.4 343.4ZM513.9 337.0L518.9 342.0L513.9 347.0L508.9 342.0ZM512.3 335.6L517.3 340.6L512.3 345.6L507.3 340.6ZM519.0 339.7L524.0 344.7L519.0 349.7L514.0 344.7ZM517.2 338.2L522.2 343.2L517.2 348.2L512.2 343.2ZM515.4 336.6L520.4 341.6L515.4 346.6L510.4 341.6ZM513.6 335.0L518.6 340.0L513.6 345.0L508.6 340.0ZM518.8 337.8L523.8 342.8L518.8 347.8L513.8 342.8ZM517.3 336.5L522.3 341.5L517.3 346.5L512.3 341.5ZM515.8 335.2L520.8 340.2L515.8 345.2L510.8 340.2ZM514.4 334.0L519.4 339.0L514.4 344.0L509.4 339.0ZM518.0 335.4L523.0 340.4L518.0 345.4L513.0 340.4ZM516.4 334.0L521.4 339.0L516.4 344.0L511.4 339.0ZM514.8 332.6L519.8 337.6L514.8 342.6L509.8 337.6ZM517.2 333.0L522.2 338.0L517.2 343.0L512.2 338.0ZM516.2 332.1L521.2 337.1L516.2 342.1L511.2 337.1ZM515.2 331.2L520.2 336.2L515.2 341.2L510.2 336.2ZM518.3 332.2L523.3 337.2L518.3 342.2L513.3 337.2ZM517.1 331.2L522.1 336.2L517.1 341.2L512.1 336.2ZM515.9 330.1L520.9 335.1L515.9 340.1L510.9 335.1ZM520.0 332.0L525.0 337.0L520.0 342.0L515.0 337.0ZM518.4 330.5L523.4 335.5L518.4 340.5L513.4 335.5ZM516.7 329.1L521.7 334.1L516.7 339.1L511.7 334.1ZM521.7 331.7L526.7 336.7L521.7 341.7L516.7 336.7ZM520.3 330.5L525.3 335.5L520.3 340.5L515.3 335.5ZM518.9 329.3L523.9 334.3L518.9 339.3L513.9 334.3ZM517.6 328.1L522.6 333.1L517.6 338.1L512.6 333.1ZM523.2 331.3L528.2 336.3L523.2 341.3L518.2 336.3ZM521.6 329.9L526.6 334.9L521.6 339.9L516.6 334.9ZM520.0 328.5L525.0 333.5L520.0 338.5L515.0 333.5ZM518.4 327.1L523.4 332.1L518.4 337.1L513.4 332.1ZM523.7 330.0L528.7 335.0L523.7 340.0L518.7 335.0ZM522.3 328.8L527.3 333.8L522.3 338.8L517.3 333.8ZM520.8 327.5L525.8 332.5L520.8 337.5L515.8 332.5ZM519.4 326.3L524.4 331.3L519.4 336.3L514.4 331.3ZM524.2 328.7L529.2 333.7L524.2 338.7L519.2 333.7ZM522.9 327.6L527.9 332.6L522.9 337.6L517.9 332.6ZM521.7 326.5L526.7 331.5L521.7 336.5L516.7 331.5ZM520.5 325.5L525.5 330.5L520.5 335.5L515.5 330.5ZM524.6 327.4L529.6 332.4L524.6 337.4L519.6 332.4ZM523.1 326.0L528.1 331.0L523.1 336.0L518.1 331.0ZM521.5 324.6L526.5 329.6L521.5 334.6L516.5 329.6ZM525.1 326.1L530.1 331.1L525.1 336.1L520.1 331.1ZM523.8 325.0L528.8 330.0L523.8 335.0L518.8 330.0ZM522.5 323.8L527.5 328.8L522.5 333.8L517.5 328.8ZM525.8 325.0L530.8 330.0L525.8 335.0L520.8 330.0ZM524.7 324.0L529.7 329.0L524.7 334.0L519.7 329.0ZM523.7 323.1L528.7 328.1L523.7 333.1L518.7 328.1ZM526.9 324.2L531.9 329.2L526.9 334.2L521.9 329.2ZM525.2 322.7L530.2 327.7L525.2 332.7L520.2 327.7ZM528.0 323.4L533.0 328.4L528.0 333.4L523.0 328.4ZM526.7 322.3L531.7 327.3L526.7 332.3L521.7 327.3ZM528.8 322.4L533.8 327.4L528.8 332.4L523.8 327.4ZM527.9 321.7L532.9 326.7L527.9 331.7L522.9 326.7ZM529.5 321.3L534.5 326.3L529.5 331.3L524.5 326.3ZM529.1 321.0L534.1 326.0L529.1 331.0L524.1 326.0ZM528.0 333.9L533.0 338.9L528.0 343.9L523.0 338.9ZM535.2 315.2L540.2 320.2L535.2 325.2L530.2 320.2ZM537.8 311.4L542.8 316.4L537.8 321.4L532.8 316.4ZM543.8 304.8L548.8 309.8L543.8 314.8L538.8 309.8ZM547.8 301.2L552.8 306.2L547.8 311.2L542.8 306.2ZM556.0 293.0L561.0 298.0L556.0 303.0L551.0 298.0ZM562.4 282.7L567.4 287.7L562.4 292.7L557.4 287.7ZM570.7 272.5L575.7 277.5L570.7 282.5L565.7 277.5Z" fill="#62819C" stroke="#5D7C97" stroke-width="0.5"/>
<polyline points="500.10,358.90 570.00,279.80" fill="none" stroke="#333333" stroke-width="1.1"/>
<text x="333.00" y="458.00" font-size="9.4" fill="#861642" font-weight="bold" textLength="161.20" lengthAdjust="spacingAndGlyphs" stroke="#861642" stroke-width="0.25">Figure 4. Scatter plot of ln(SL) - ln(W)</text>
<rect x="28" y="508.2" width="268.6" height="184.40000000000003" fill="#FDFDFD"/>
<path d="M71.00 516.80V652.80H288.10" fill="none" stroke="#C2C2C2" stroke-width="1.7"/>
<text x="61.00" y="657.90" font-size="10.5" fill="#2a2a2a" text-anchor="end" textLength="5.62" lengthAdjust="spacingAndGlyphs" stroke="#2a2a2a" stroke-width="0.15">0</text>
<text x="61.00" y="635.13" font-size="10.5" fill="#2a2a2a" text-anchor="end" textLength="5.62" lengthAdjust="spacingAndGlyphs" stroke="#2a2a2a" stroke-width="0.15">5</text>
<text x="61.00" y="612.35" font-size="10.5" fill="#2a2a2a" text-anchor="end" textLength="11.24" lengthAdjust="spacingAndGlyphs" stroke="#2a2a2a" stroke-width="0.15">10</text>
<text x="61.00" y="589.58" font-size="10.5" fill="#2a2a2a" text-anchor="end" textLength="11.24" lengthAdjust="spacingAndGlyphs" stroke="#2a2a2a" stroke-width="0.15">15</text>
<text x="61.00" y="566.80" font-size="10.5" fill="#2a2a2a" text-anchor="end" textLength="11.24" lengthAdjust="spacingAndGlyphs" stroke="#2a2a2a" stroke-width="0.15">20</text>
<text x="61.00" y="544.03" font-size="10.5" fill="#2a2a2a" text-anchor="end" textLength="11.24" lengthAdjust="spacingAndGlyphs" stroke="#2a2a2a" stroke-width="0.15">25</text>
<text x="61.00" y="521.25" font-size="10.5" fill="#2a2a2a" text-anchor="end" textLength="11.24" lengthAdjust="spacingAndGlyphs" stroke="#2a2a2a" stroke-width="0.15">30</text>
<text x="70.60" y="670.80" font-size="10.5" fill="#2a2a2a" text-anchor="middle" textLength="5.62" lengthAdjust="spacingAndGlyphs" stroke="#2a2a2a" stroke-width="0.15">0</text>
<text x="124.82" y="670.80" font-size="10.5" fill="#2a2a2a" text-anchor="middle" textLength="11.24" lengthAdjust="spacingAndGlyphs" stroke="#2a2a2a" stroke-width="0.15">10</text>
<text x="179.05" y="670.80" font-size="10.5" fill="#2a2a2a" text-anchor="middle" textLength="11.24" lengthAdjust="spacingAndGlyphs" stroke="#2a2a2a" stroke-width="0.15">20</text>
<text x="233.28" y="670.80" font-size="10.5" fill="#2a2a2a" text-anchor="middle" textLength="11.24" lengthAdjust="spacingAndGlyphs" stroke="#2a2a2a" stroke-width="0.15">30</text>
<text x="287.50" y="670.80" font-size="10.5" fill="#2a2a2a" text-anchor="middle" textLength="11.24" lengthAdjust="spacingAndGlyphs" stroke="#2a2a2a" stroke-width="0.15">40</text>
<text x="178.90" y="688.60" font-size="10.8" fill="#000000" font-weight="bold" text-anchor="middle" textLength="61.00" lengthAdjust="spacingAndGlyphs">Total Length</text>
<text transform="translate(43.80,584.50) rotate(-90)" x="0" y="0" font-size="10.8" font-weight="bold" fill="#000000" text-anchor="middle" textLength="81.40" lengthAdjust="spacingAndGlyphs">Standard Length</text>
<path d="M123.8 612.9L128.8 617.9L123.8 622.9L118.8 617.9ZM126.1 611.7L131.1 616.7L126.1 621.7L121.1 616.7ZM125.5 610.7L130.5 615.7L125.5 620.7L120.5 615.7ZM124.9 609.7L129.9 614.7L124.9 619.7L119.9 614.7ZM128.2 610.1L133.2 615.1L128.2 620.1L123.2 615.1ZM127.5 609.1L132.5 614.1L127.5 619.1L122.5 614.1ZM126.9 608.1L131.9 613.1L126.9 618.1L121.9 613.1ZM130.4 608.7L135.4 613.7L130.4 618.7L125.4 613.7ZM129.6 607.5L134.6 612.5L129.6 617.5L124.6 612.5ZM128.8 606.2L133.8 611.2L128.8 616.2L123.8 611.2ZM132.6 607.4L137.6 612.4L132.6 617.4L127.6 612.4ZM132.1 606.5L137.1 611.5L132.1 616.5L127.1 611.5ZM131.5 605.7L136.5 610.7L131.5 615.7L126.5 610.7ZM134.8 606.1L139.8 611.1L134.8 616.1L129.8 611.1ZM134.5 605.5L139.5 610.5L134.5 615.5L129.5 610.5ZM137.1 604.7L142.1 609.7L137.1 614.7L132.1 609.7ZM136.9 604.4L141.9 609.4L136.9 614.4L131.9 609.4ZM139.3 603.4L144.3 608.4L139.3 613.4L134.3 608.4ZM138.7 602.5L143.7 607.5L138.7 612.5L133.7 607.5ZM141.5 602.0L146.5 607.0L141.5 612.0L136.5 607.0ZM140.8 600.9L145.8 605.9L140.8 610.9L135.8 605.9ZM143.6 600.5L148.6 605.5L143.6 610.5L138.6 605.5ZM143.1 599.6L148.1 604.6L143.1 609.6L138.1 604.6ZM145.7 598.9L150.7 603.9L145.7 608.9L140.7 603.9ZM145.4 598.4L150.4 603.4L145.4 608.4L140.4 603.4ZM147.8 597.3L152.8 602.3L147.8 607.3L142.8 602.3ZM150.0 596.0L155.0 601.0L150.0 606.0L145.0 601.0ZM152.3 594.7L157.3 599.7L152.3 604.7L147.3 599.7ZM151.9 594.1L156.9 599.1L151.9 604.1L146.9 599.1ZM154.6 593.5L159.6 598.5L154.6 603.5L149.6 598.5ZM153.9 592.5L158.9 597.5L153.9 602.5L148.9 597.5ZM157.2 592.8L162.2 597.8L157.2 602.8L152.2 597.8ZM156.3 591.4L161.3 596.4L156.3 601.4L151.3 596.4ZM159.3 591.3L164.3 596.3L159.3 601.3L154.3 596.3ZM158.8 590.4L163.8 595.4L158.8 600.4L153.8 595.4ZM161.3 589.6L166.3 594.6L161.3 599.6L156.3 594.6ZM166.4 584.1L171.4 589.1L166.4 594.1L161.4 589.1ZM172.4 581.2L177.4 586.2L172.4 591.2L167.4 586.2ZM188.7 572.4L193.7 577.4L188.7 582.4L183.7 577.4ZM190.6 569.5L195.6 574.5L190.6 579.5L185.6 574.5ZM210.6 554.3L215.6 559.3L210.6 564.3L205.6 559.3ZM224.8 542.3L229.8 547.3L224.8 552.3L219.8 547.3ZM259.1 526.9L264.1 531.9L259.1 536.9L254.1 531.9Z" fill="#62819C" stroke="#5D7C97" stroke-width="0.5"/>
<polyline points="123.70,615.70 259.10,531.20" fill="none" stroke="#333333" stroke-width="1.1"/>
<text x="14.60" y="711.60" font-size="9.4" fill="#861642" font-weight="bold" textLength="232.80" lengthAdjust="spacingAndGlyphs" stroke="#861642" stroke-width="0.25">Figure 5. Scatter plot of Total length - Standard length</text>
<rect x="352.0" y="505.6" width="261.70000000000005" height="191.89999999999998" fill="#FDFDFD"/>
<path d="M395.50 515.50V656.10H607.00" fill="none" stroke="#969696" stroke-width="1.2"/>
<text x="384.80" y="661.27" font-size="10.0" fill="#2a2a2a" text-anchor="end" textLength="5.62" lengthAdjust="spacingAndGlyphs" stroke="#2a2a2a" stroke-width="0.3">0</text>
<text x="384.80" y="641.10" font-size="10.0" fill="#2a2a2a" text-anchor="end" textLength="14.14" lengthAdjust="spacingAndGlyphs" stroke="#2a2a2a" stroke-width="0.3">0.5</text>
<text x="384.80" y="620.93" font-size="10.0" fill="#2a2a2a" text-anchor="end" textLength="5.62" lengthAdjust="spacingAndGlyphs" stroke="#2a2a2a" stroke-width="0.3">1</text>
<text x="384.80" y="600.76" font-size="10.0" fill="#2a2a2a" text-anchor="end" textLength="14.14" lengthAdjust="spacingAndGlyphs" stroke="#2a2a2a" stroke-width="0.3">1.5</text>
<text x="384.80" y="580.59" font-size="10.0" fill="#2a2a2a" text-anchor="end" textLength="5.62" lengthAdjust="spacingAndGlyphs" stroke="#2a2a2a" stroke-width="0.3">2</text>
<text x="384.80" y="560.42" font-size="10.0" fill="#2a2a2a" text-anchor="end" textLength="14.14" lengthAdjust="spacingAndGlyphs" stroke="#2a2a2a" stroke-width="0.3">2.5</text>
<text x="384.80" y="540.25" font-size="10.0" fill="#2a2a2a" text-anchor="end" textLength="5.62" lengthAdjust="spacingAndGlyphs" stroke="#2a2a2a" stroke-width="0.3">3</text>
<text x="384.80" y="520.08" font-size="10.0" fill="#2a2a2a" text-anchor="end" textLength="14.14" lengthAdjust="spacingAndGlyphs" stroke="#2a2a2a" stroke-width="0.3">3.5</text>
<text x="395.10" y="673.80" font-size="10.0" fill="#2a2a2a" text-anchor="middle" textLength="5.62" lengthAdjust="spacingAndGlyphs" stroke="#2a2a2a" stroke-width="0.3">0</text>
<text x="447.85" y="673.80" font-size="10.0" fill="#2a2a2a" text-anchor="middle" textLength="5.62" lengthAdjust="spacingAndGlyphs" stroke="#2a2a2a" stroke-width="0.3">1</text>
<text x="500.60" y="673.80" font-size="10.0" fill="#2a2a2a" text-anchor="middle" textLength="5.62" lengthAdjust="spacingAndGlyphs" stroke="#2a2a2a" stroke-width="0.3">2</text>
<text x="553.35" y="673.80" font-size="10.0" fill="#2a2a2a" text-anchor="middle" textLength="5.62" lengthAdjust="spacingAndGlyphs" stroke="#2a2a2a" stroke-width="0.3">3</text>
<text x="606.10" y="673.80" font-size="10.0" fill="#2a2a2a" text-anchor="middle" textLength="5.62" lengthAdjust="spacingAndGlyphs" stroke="#2a2a2a" stroke-width="0.3">4</text>
<text x="500.80" y="693.30" font-size="10.8" fill="#000000" font-weight="bold" text-anchor="middle" textLength="31.00" lengthAdjust="spacingAndGlyphs">ln (TL)</text>
<text transform="translate(364.40,585.40) rotate(-90)" x="0" y="0" font-size="10.8" font-weight="bold" fill="#000000" text-anchor="middle" textLength="28.00" lengthAdjust="spacingAndGlyphs">ln(SL)</text>
<text x="476.70" y="535.70" font-size="10" fill="#1a1a1a" text-anchor="middle" textLength="88.60" lengthAdjust="spacingAndGlyphs" stroke="#1a1a1a" stroke-width="0.2">y = 0.987x - 0.218</text>
<text x="476.50" y="548.30" font-size="10" fill="#1a1a1a" text-anchor="middle" textLength="50.60" lengthAdjust="spacingAndGlyphs" stroke="#1a1a1a" stroke-width="0.2">R<tspan font-size="7.2" dy="-3.6">2</tspan><tspan dy="3.6"> </tspan>= 0.992</text>
<path d="M516.0 569.1L521.0 574.1L516.0 579.1L511.0 574.1ZM515.5 568.4L520.5 573.4L515.5 578.4L510.5 573.4ZM517.2 568.5L522.2 573.5L517.2 578.5L512.2 573.5ZM516.2 567.2L521.2 572.2L516.2 577.2L511.2 572.2ZM518.4 568.0L523.4 573.0L518.4 578.0L513.4 573.0ZM517.6 567.0L522.6 572.0L517.6 577.0L512.6 572.0ZM516.8 566.0L521.8 571.0L516.8 576.0L511.8 571.0ZM519.6 567.4L524.6 572.4L519.6 577.4L514.6 572.4ZM518.6 566.1L523.6 571.1L518.6 576.1L513.6 571.1ZM517.5 564.7L522.5 569.7L517.5 574.7L512.5 569.7ZM521.0 567.1L526.0 572.1L521.0 577.1L516.0 572.1ZM519.9 565.7L524.9 570.7L519.9 575.7L514.9 570.7ZM518.8 564.2L523.8 569.2L518.8 574.2L513.8 569.2ZM522.0 566.3L527.0 571.3L522.0 576.3L517.0 571.3ZM521.0 565.0L526.0 570.0L521.0 575.0L516.0 570.0ZM519.9 563.6L524.9 568.6L519.9 573.6L514.9 568.6ZM522.9 565.4L527.9 570.4L522.9 575.4L517.9 570.4ZM522.0 564.1L527.0 569.1L522.0 574.1L517.0 569.1ZM521.1 562.9L526.1 567.9L521.1 572.9L516.1 567.9ZM523.9 564.4L528.9 569.4L523.9 574.4L518.9 569.4ZM523.0 563.3L528.0 568.3L523.0 573.3L518.0 568.3ZM522.2 562.2L527.2 567.2L522.2 572.2L517.2 567.2ZM524.7 563.5L529.7 568.5L524.7 573.5L519.7 568.5ZM523.3 561.5L528.3 566.5L523.3 571.5L518.3 566.5ZM525.6 562.5L530.6 567.5L525.6 572.5L520.6 567.5ZM524.4 560.8L529.4 565.8L524.4 570.8L519.4 565.8ZM526.5 561.5L531.5 566.5L526.5 571.5L521.5 566.5ZM525.5 560.1L530.5 565.1L525.5 570.1L520.5 565.1ZM527.4 560.5L532.4 565.5L527.4 570.5L522.4 565.5ZM526.6 559.4L531.6 564.4L526.6 569.4L521.6 564.4ZM528.3 559.5L533.3 564.5L528.3 569.5L523.3 564.5ZM527.6 558.7L532.6 563.7L527.6 568.7L522.6 563.7ZM529.1 558.5L534.1 563.5L529.1 568.5L524.1 563.5ZM528.7 558.0L533.7 563.0L528.7 568.0L523.7 563.0ZM530.0 557.5L535.0 562.5L530.0 567.5L525.0 562.5ZM529.8 557.3L534.8 562.3L529.8 567.3L524.8 562.3ZM531.6 557.4L536.6 562.4L531.6 567.4L526.6 562.4ZM531.1 556.8L536.1 561.8L531.1 566.8L526.1 561.8ZM532.6 556.7L537.6 561.7L532.6 566.7L527.6 561.7ZM532.3 556.2L537.3 561.2L532.3 566.2L527.3 561.2ZM533.7 555.9L538.7 560.9L533.7 565.9L528.7 560.9ZM533.4 555.5L538.4 560.5L533.4 565.5L528.4 560.5ZM534.8 555.2L539.8 560.2L534.8 565.2L529.8 560.2ZM534.6 554.9L539.6 559.9L534.6 564.9L529.6 559.9ZM535.8 554.4L540.8 559.4L535.8 564.4L530.8 559.4ZM536.9 553.6L541.9 558.6L536.9 563.6L531.9 558.6ZM537.9 552.9L542.9 557.9L537.9 562.9L532.9 557.9ZM539.0 552.1L544.0 557.1L539.0 562.1L534.0 557.1ZM540.0 551.3L545.0 556.3L540.0 561.3L535.0 556.3ZM541.1 550.6L546.1 555.6L541.1 560.6L536.1 555.6ZM542.2 549.9L547.2 554.9L542.2 559.9L537.2 554.9ZM543.3 549.1L548.3 554.1L543.3 559.1L538.3 554.1ZM544.3 548.4L549.3 553.4L544.3 558.4L539.3 553.4ZM545.3 547.5L550.3 552.5L545.3 557.5L540.3 552.5ZM546.2 546.5L551.2 551.5L546.2 556.5L541.2 551.5ZM547.0 545.5L552.0 550.5L547.0 555.5L542.0 550.5ZM548.1 544.8L553.1 549.8L548.1 554.8L543.1 549.8ZM549.2 544.1L554.2 549.1L549.2 554.1L544.2 549.1ZM550.3 543.4L555.3 548.4L550.3 553.4L545.3 548.4ZM558.0 537.5L563.0 542.5L558.0 547.5L553.0 542.5ZM559.5 536.0L564.5 541.0L559.5 546.0L554.5 541.0ZM567.0 529.8L572.0 534.8L567.0 539.8L562.0 534.8ZM569.5 527.5L574.5 532.5L569.5 537.5L564.5 532.5ZM572.5 524.9L577.5 529.9L572.5 534.9L567.5 529.9ZM583.1 518.9L588.1 523.9L583.1 528.9L578.1 523.9Z" fill="#62819C" stroke="#5D7C97" stroke-width="0.5"/>
<polyline points="516.20,574.40 582.90,523.60" fill="none" stroke="#333333" stroke-width="1.1"/>
<text x="332.50" y="712.10" font-size="9.4" fill="#861642" font-weight="bold" textLength="160.60" lengthAdjust="spacingAndGlyphs" stroke="#861642" stroke-width="0.25">Figure 6. Scatter plot of ln(TL) - ln(SL)</text>
</svg>
</body></html>
